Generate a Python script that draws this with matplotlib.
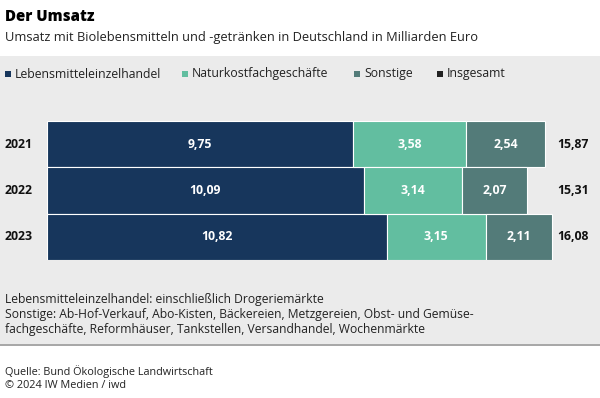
import matplotlib.pyplot as plt
from matplotlib.patches import Rectangle
import numpy as np

plt.rcParams['font.family'] = ['Open Sans', 'DejaVu Sans']

years = ['2021', '2022', '2023']
lebensmittel = [9.75, 10.09, 10.82]
naturkost = [3.58, 3.14, 3.15]
sonstige = [2.54, 2.07, 2.11]
insgesamt = [15.87, 15.31, 16.08]

series_names = ['Lebensmitteleinzelhandel', 'Naturkostfachgeschäfte', 'Sonstige', 'Insgesamt']
colors = ['#17365c', '#62bea0', '#537b79', '#222222']

W, H = 600, 398
fig = plt.figure(figsize=(W / 100, H / 100), dpi=100)
fig.patch.set_facecolor('white')


def fy(py):
    return 1 - py / H


def fx(px):
    return px / W


# grey panel
fig.patches.append(Rectangle((0, fy(344)), 1, fy(56) - fy(344), transform=fig.transFigure,
                             facecolor='#ebebeb', edgecolor='none', zorder=0))
fig.patches.append(Rectangle((0, fy(346)), 1, fy(344) - fy(346), transform=fig.transFigure,
                             facecolor='#a8a8a8', edgecolor='none', zorder=0))

fig.text(fx(5), fy(17), 'Der Umsatz', fontsize=10.8, fontweight='heavy', va='center', ha='left')
fig.text(fx(5), fy(38), 'Umsatz mit Biolebensmitteln und -getränken in Deutschland in Milliarden Euro',
         fontsize=9.3, va='center', ha='left', color='#222222')

# legend
leg_x = [5, 182, 354, 437]
for x, name, c in zip(leg_x, series_names, colors):
    fig.patches.append(Rectangle((fx(x), fy(77)), 6 / W, 6 / H, transform=fig.transFigure,
                                 facecolor=c, edgecolor='none'))
    fig.text(fx(x + 10), fy(74), name, fontsize=8.8, va='center', ha='left', color='#222222')

# bars
ax = fig.add_axes([fx(47), fy(260), fx(600) - fx(47), fy(121) - fy(260)])
ax.set_zorder(3)
ax.set_facecolor('none')
y = np.arange(len(years))
left = np.zeros(len(years))
for vals, c in zip([lebensmittel, naturkost, sonstige], colors[:3]):
    bars = ax.barh(y, vals, left=left, height=1.0, color=c, edgecolor='white', linewidth=0.8)
    for b, v, l in zip(bars, vals, left):
        ax.text(l + v / 2, b.get_y() + b.get_height() / 2, f'{v:.2f}'.replace('.', ','),
                ha='center', va='center', color='white', fontsize=8.8, fontweight='bold')
    left = left + np.array(vals)

for yi, tot in zip(y, insgesamt):
    ax.text(16.25, yi, f'{tot:.2f}'.replace('.', ','), ha='left', va='center',
            fontsize=8.8, fontweight='bold', color='#111111')

for yi, yr in zip(y, years):
    ax.text(-1.35, yi, yr, ha='left', va='center', fontsize=8.8, fontweight='bold', color='#111111')

ax.set_xlim(0, 553 / 31.4)
ax.set_ylim(2.5, -0.5)
ax.axis('off')

notes = ['Lebensmitteleinzelhandel: einschließlich Drogeriemärkte',
         'Sonstige: Ab-Hof-Verkauf, Abo-Kisten, Bäckereien, Metzgereien, Obst- und Gemüse-',
         'fachgeschäfte, Reformhäuser, Tankstellen, Versandhandel, Wochenmärkte']
for i, n in enumerate(notes):
    fig.text(fx(5), fy(300 + i * 14.5), n, fontsize=8.7, va='center', ha='left', color='#222222')

fig.text(fx(5), fy(372), 'Quelle: Bund Ökologische Landwirtschaft', fontsize=7.8, va='center', ha='left', color='#222222')
fig.text(fx(5), fy(385), '© 2024 IW Medien / iwd', fontsize=7.8, va='center', ha='left', color='#222222')

fig.savefig('out.png', dpi=100)
